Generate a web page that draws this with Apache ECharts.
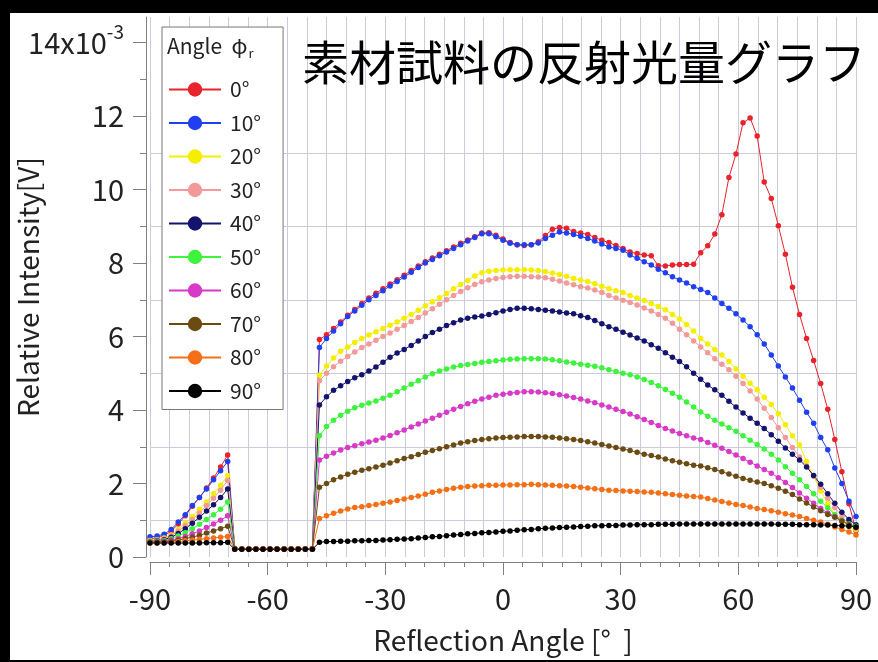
<!DOCTYPE html>
<html>
<head>
<meta charset="utf-8">
<script src="https://cdn.jsdelivr.net/npm/echarts@6/dist/echarts.min.js"></script>
<style>
  html, body { margin: 0; padding: 0; background: #000; }
  #paper { position: absolute; left: 10px; top: 13px; width: 868px; height: 647px; background: #fff; }
  #chart { position: absolute; left: 0; top: 0; width: 878px; height: 662px; }
</style>
</head>
<body>
<div id="paper"></div>
<div id="chart"></div>
<script>
// reflection angle, 1.8 deg step
const angles = [
  -90, -88.2, -86.4, -84.6, -82.8, -81, -79.2, -77.4, -75.6, -73.8, -72, -70.2,
  -68.4, -66.6, -64.8, -63, -61.2, -59.4, -57.6, -55.8, -54, -52.2, -50.4, -48.6,
  -46.8, -45, -43.2, -41.4, -39.6, -37.8, -36, -34.2, -32.4, -30.6,
  -28.8, -27, -25.2, -23.4, -21.6, -19.8, -18, -16.2, -14.4, -12.6,
  -10.8, -9, -7.2, -5.4, -3.6, -1.8, 0, 1.8, 3.6, 5.4,
  7.2, 9, 10.8, 12.6, 14.4, 16.2, 18, 19.8, 21.6, 23.4,
  25.2, 27, 28.8, 30.6, 32.4, 34.2, 36, 37.8, 39.6, 41.4,
  43.2, 45, 46.8, 48.6, 50.4, 52.2, 54, 55.8, 57.6, 59.4,
  61.2, 63, 64.8, 66.6, 68.4, 70.2, 72, 73.8, 75.6, 77.4,
  79.2, 81, 82.8, 84.6, 86.4, 88.2, 90
];

// relative intensity, x10^-3 V
const phi0 = [
  0.50, 0.52, 0.58, 0.70, 0.90, 1.12, 1.38, 1.62, 1.88, 2.15, 2.45, 2.78,
  0.23, 0.22, 0.22, 0.22, 0.22, 0.22, 0.22, 0.22, 0.22, 0.22, 0.22, 0.23,
  5.92, 6.05, 6.22, 6.40, 6.58, 6.74, 6.90, 7.05, 7.18, 7.30,
  7.43, 7.55, 7.67, 7.80, 7.92, 8.04, 8.14, 8.24, 8.34, 8.44,
  8.54, 8.63, 8.72, 8.82, 8.83, 8.76, 8.66, 8.56, 8.50, 8.48,
  8.50, 8.58, 8.75, 8.92, 8.97, 8.95, 8.86, 8.82, 8.78, 8.70,
  8.62, 8.56, 8.48, 8.40, 8.30, 8.26, 8.22, 8.20, 7.93, 7.92,
  7.95, 7.96, 7.96, 7.97, 8.28, 8.47, 8.79, 9.32, 10.33, 10.97,
  11.82, 11.95, 11.46, 10.21, 9.76, 9.02, 8.24, 7.34, 6.60, 5.95,
  5.35, 4.72, 4.02, 3.20, 2.32, 1.45, 0.72
];
const phi10 = [
  0.55, 0.57, 0.62, 0.75, 0.95, 1.15, 1.40, 1.62, 1.85, 2.10, 2.35, 2.60,
  0.23, 0.22, 0.22, 0.21, 0.22, 0.22, 0.22, 0.21, 0.22, 0.22, 0.22, 0.22,
  5.70, 5.95, 6.15, 6.35, 6.55, 6.70, 6.85, 7.00, 7.12, 7.25,
  7.38, 7.50, 7.62, 7.75, 7.88, 8.00, 8.10, 8.20, 8.30, 8.40,
  8.50, 8.60, 8.70, 8.80, 8.80, 8.72, 8.62, 8.54, 8.50, 8.50,
  8.50, 8.55, 8.67, 8.76, 8.85, 8.82, 8.78, 8.73, 8.67, 8.60,
  8.52, 8.44, 8.40, 8.35, 8.22, 8.13, 8.04, 7.95, 7.83, 7.74,
  7.63, 7.54, 7.46, 7.36, 7.28, 7.20, 7.05, 6.90, 6.77, 6.62,
  6.45, 6.27, 6.05, 5.80, 5.50, 5.20, 4.90, 4.60, 4.27, 3.94,
  3.64, 3.25, 2.92, 2.42, 2.00, 1.52, 1.10
];
const phi20 = [
  0.45, 0.47, 0.52, 0.60, 0.75, 0.92, 1.10, 1.30, 1.50, 1.72, 1.95, 2.22,
  0.22, 0.22, 0.22, 0.22, 0.22, 0.22, 0.22, 0.22, 0.22, 0.22, 0.22, 0.22,
  4.95, 5.20, 5.42, 5.60, 5.72, 5.84, 5.95, 6.04, 6.13, 6.22,
  6.31, 6.40, 6.50, 6.60, 6.72, 6.84, 6.95, 7.06, 7.17, 7.30,
  7.42, 7.53, 7.65, 7.74, 7.78, 7.80, 7.81, 7.82, 7.82, 7.82,
  7.81, 7.80, 7.77, 7.73, 7.69, 7.64, 7.58, 7.54, 7.50, 7.44,
  7.37, 7.30, 7.25, 7.20, 7.12, 7.05, 6.98, 6.90, 6.82, 6.73,
  6.60, 6.48, 6.33, 6.15, 5.95, 5.80, 5.65, 5.50, 5.32, 5.12,
  4.92, 4.73, 4.55, 4.35, 4.15, 3.90, 3.60, 3.30, 3.05, 2.60,
  2.20, 1.80, 1.45, 1.15, 0.95, 0.82, 0.75
];
const phi30 = [
  0.45, 0.47, 0.50, 0.58, 0.70, 0.86, 1.02, 1.20, 1.40, 1.60, 1.82, 2.08,
  0.22, 0.22, 0.22, 0.22, 0.22, 0.22, 0.22, 0.22, 0.22, 0.22, 0.22, 0.22,
  4.80, 5.00, 5.18, 5.33, 5.46, 5.58, 5.70, 5.80, 5.90, 6.00,
  6.10, 6.20, 6.30, 6.41, 6.52, 6.64, 6.76, 6.88, 7.00, 7.12,
  7.23, 7.33, 7.42, 7.49, 7.54, 7.58, 7.61, 7.63, 7.64, 7.64,
  7.63, 7.62, 7.60, 7.56, 7.51, 7.46, 7.41, 7.36, 7.32, 7.27,
  7.20, 7.12, 7.05, 6.99, 6.93, 6.86, 6.78, 6.70, 6.60, 6.50,
  6.36, 6.20, 6.05, 5.88, 5.72, 5.56, 5.40, 5.25, 5.10, 4.92,
  4.72, 4.52, 4.30, 4.05, 3.80, 3.52, 3.25, 2.98, 2.72, 2.48,
  2.20, 1.90, 1.60, 1.35, 1.10, 0.90, 0.78
];
const phi40 = [
  0.42, 0.44, 0.47, 0.54, 0.64, 0.77, 0.92, 1.08, 1.25, 1.42, 1.62, 1.85,
  0.22, 0.22, 0.21, 0.22, 0.22, 0.22, 0.22, 0.22, 0.21, 0.22, 0.22, 0.22,
  4.14, 4.36, 4.54, 4.66, 4.78, 4.88, 4.96, 5.06, 5.17, 5.30,
  5.44, 5.55, 5.65, 5.76, 5.88, 6.00, 6.11, 6.20, 6.30, 6.38,
  6.45, 6.50, 6.53, 6.56, 6.60, 6.65, 6.70, 6.74, 6.77, 6.77,
  6.76, 6.74, 6.72, 6.70, 6.67, 6.64, 6.62, 6.57, 6.52, 6.44,
  6.35, 6.27, 6.20, 6.12, 6.04, 5.96, 5.88, 5.78, 5.68, 5.56,
  5.44, 5.32, 5.18, 5.00, 4.84, 4.68, 4.55, 4.40, 4.24, 4.08,
  3.92, 3.78, 3.64, 3.50, 3.33, 3.15, 2.97, 2.80, 2.64, 2.45,
  2.22, 1.98, 1.72, 1.46, 1.22, 1.02, 0.88
];
const phi50 = [
  0.42, 0.43, 0.45, 0.50, 0.57, 0.66, 0.77, 0.89, 1.02, 1.15, 1.30, 1.50,
  0.22, 0.22, 0.22, 0.22, 0.22, 0.22, 0.22, 0.22, 0.22, 0.22, 0.22, 0.22,
  3.30, 3.55, 3.72, 3.86, 3.97, 4.06, 4.13, 4.19, 4.25, 4.32,
  4.40, 4.50, 4.60, 4.70, 4.80, 4.90, 4.99, 5.06, 5.12, 5.17,
  5.21, 5.24, 5.27, 5.30, 5.32, 5.34, 5.36, 5.38, 5.39, 5.40,
  5.40, 5.40, 5.39, 5.37, 5.34, 5.31, 5.28, 5.25, 5.22, 5.19,
  5.15, 5.10, 5.05, 5.00, 4.96, 4.90, 4.83, 4.75, 4.66, 4.56,
  4.46, 4.35, 4.22, 4.08, 3.95, 3.83, 3.72, 3.62, 3.52, 3.42,
  3.30, 3.18, 3.06, 2.94, 2.80, 2.64, 2.46, 2.28, 2.10, 1.92,
  1.72, 1.52, 1.34, 1.16, 1.00, 0.90, 0.84
];
const phi60 = [
  0.40, 0.41, 0.43, 0.46, 0.50, 0.56, 0.63, 0.71, 0.80, 0.90, 1.00, 1.12,
  0.22, 0.22, 0.22, 0.22, 0.22, 0.22, 0.22, 0.22, 0.22, 0.22, 0.22, 0.22,
  2.64, 2.74, 2.83, 2.91, 2.98, 3.03, 3.08, 3.13, 3.18, 3.24,
  3.31, 3.38, 3.46, 3.54, 3.62, 3.70, 3.78, 3.86, 3.94, 4.02,
  4.10, 4.17, 4.24, 4.30, 4.35, 4.40, 4.43, 4.46, 4.48, 4.50,
  4.50, 4.49, 4.47, 4.45, 4.42, 4.38, 4.34, 4.30, 4.25, 4.20,
  4.14, 4.08, 4.02, 3.96, 3.89, 3.82, 3.74, 3.66, 3.58, 3.50,
  3.43, 3.36, 3.30, 3.24, 3.20, 3.12, 3.04, 2.96, 2.87, 2.78,
  2.68, 2.58, 2.48, 2.38, 2.28, 2.16, 2.03, 1.89, 1.74, 1.60,
  1.46, 1.32, 1.20, 1.10, 0.98, 0.88, 0.80
];
const phi70 = [
  0.40, 0.40, 0.41, 0.43, 0.46, 0.50, 0.54, 0.59, 0.65, 0.71, 0.77, 0.84,
  0.22, 0.22, 0.22, 0.22, 0.22, 0.22, 0.22, 0.22, 0.22, 0.22, 0.22, 0.22,
  1.90, 2.00, 2.10, 2.18, 2.25, 2.31, 2.36, 2.40, 2.45, 2.50,
  2.56, 2.62, 2.68, 2.73, 2.79, 2.85, 2.90, 2.95, 3.00, 3.05,
  3.10, 3.14, 3.17, 3.20, 3.22, 3.24, 3.25, 3.26, 3.27, 3.28,
  3.28, 3.28, 3.27, 3.26, 3.24, 3.22, 3.20, 3.17, 3.14, 3.10,
  3.06, 3.02, 2.98, 2.94, 2.90, 2.85, 2.80, 2.76, 2.72, 2.67,
  2.62, 2.58, 2.54, 2.50, 2.48, 2.43, 2.38, 2.32, 2.26, 2.20,
  2.14, 2.09, 2.04, 2.00, 1.94, 1.87, 1.79, 1.70, 1.58, 1.47,
  1.36, 1.26, 1.16, 1.08, 0.98, 0.88, 0.80
];
const phi80 = [
  0.38, 0.38, 0.39, 0.40, 0.42, 0.44, 0.46, 0.48, 0.50, 0.52, 0.54, 0.56,
  0.21, 0.22, 0.22, 0.22, 0.22, 0.22, 0.22, 0.22, 0.22, 0.22, 0.22, 0.21,
  1.05, 1.12, 1.19, 1.25, 1.31, 1.35, 1.37, 1.40, 1.43, 1.46,
  1.50, 1.54, 1.58, 1.62, 1.66, 1.71, 1.76, 1.80, 1.84, 1.87,
  1.90, 1.92, 1.93, 1.94, 1.95, 1.95, 1.96, 1.96, 1.97, 1.97,
  1.98, 1.97, 1.96, 1.95, 1.94, 1.93, 1.92, 1.90, 1.88, 1.86,
  1.84, 1.82, 1.81, 1.80, 1.79, 1.78, 1.77, 1.76, 1.74, 1.72,
  1.70, 1.68, 1.66, 1.65, 1.63, 1.59, 1.55, 1.51, 1.47, 1.43,
  1.40, 1.36, 1.32, 1.29, 1.26, 1.22, 1.18, 1.14, 1.10, 1.05,
  1.00, 0.95, 0.89, 0.82, 0.75, 0.68, 0.60
];
const phi90 = [
  0.38, 0.38, 0.38, 0.38, 0.38, 0.38, 0.38, 0.38, 0.39, 0.39, 0.39, 0.40,
  0.21, 0.21, 0.21, 0.21, 0.21, 0.21, 0.21, 0.21, 0.21, 0.21, 0.21, 0.21,
  0.40, 0.42, 0.42, 0.43, 0.43, 0.44, 0.44, 0.45, 0.45, 0.46,
  0.47, 0.48, 0.49, 0.50, 0.52, 0.53, 0.55, 0.56, 0.58, 0.60,
  0.61, 0.63, 0.64, 0.66, 0.67, 0.68, 0.70, 0.71, 0.73, 0.74,
  0.75, 0.77, 0.78, 0.79, 0.80, 0.81, 0.82, 0.83, 0.84, 0.85,
  0.85, 0.86, 0.86, 0.87, 0.87, 0.88, 0.88, 0.88, 0.89, 0.89,
  0.89, 0.90, 0.90, 0.90, 0.90, 0.90, 0.90, 0.90, 0.90, 0.90,
  0.90, 0.90, 0.90, 0.90, 0.90, 0.89, 0.89, 0.89, 0.88, 0.88,
  0.88, 0.87, 0.87, 0.86, 0.85, 0.84, 0.82
];

const seriesNames = ['0°', '10°', '20°', '30°', '40°', '50°', '60°', '70°', '80°', '90°'];
const seriesValues = [phi0, phi10, phi20, phi30, phi40, phi50, phi60, phi70, phi80, phi90];
const colors = ['#e8232b', '#1f3ff0', '#f5ee00', '#f29a9a', '#14146e',
                '#3ef23e', '#d63ac6', '#6b4b12', '#f56f16', '#000000'];

const xTicks = [-90, -60, -30, 0, 30, 60, 90];
const yTicks = [0, 2, 4, 6, 8, 10, 12, 14];
const yMinorTicks = [1, 3, 5, 7, 9, 11, 13];

const font = 'Noto Sans CJK JP';
const gridColor = '#cbcbdd';
const axisColor = '#808080';

const chart = echarts.init(document.getElementById('chart'));

chart.setOption({
  animation: false,
  backgroundColor: 'transparent',
  textStyle: { fontFamily: font },
  title: {
    text: '素材試料の反射光量グラフ',
    left: 297,
    top: 34,
    textStyle: { fontSize: 47, fontWeight: 'normal', color: '#000', fontFamily: font },
  },
  legend: {
    orient: 'vertical',
    left: 162,
    top: 27,
    padding: [52, 22, 8, 6],
    itemWidth: 52,
    itemHeight: 18,
    itemGap: 12.5,
    backgroundColor: '#fff',
    borderColor: '#777',
    borderWidth: 1,
    borderRadius: 0,
    textStyle: { fontSize: 21, color: '#222', fontFamily: font, padding: [0, 0, 0, 4] },
    data: seriesNames,
  },
  graphic: [
    {
      type: 'text',
      left: 167,
      top: 33,
      z: 100,
      style: {
        text: '{a|Angle  φ}{s|r}',
        rich: {
          a: { fontSize: 21, fontFamily: font, fill: '#222', lineHeight: 30 },
          s: { fontSize: 13, fontFamily: font, fill: '#222', lineHeight: 30, padding: [14, 0, 0, 1] },
        },
      },
    },
  ],
  grid: { left: 150, right: 22, top: 17, bottom: 105 },
  xAxis: {
    type: 'value',
    min: -90,
    max: 90,
    interval: 30,
    offset: 5,
    name: 'Reflection Angle [°  ]',
    nameLocation: 'middle',
    nameGap: 64,
    nameTextStyle: { fontSize: 28, color: '#222', fontFamily: font },
    axisLine: { show: true, onZero: false, lineStyle: { color: axisColor, width: 1 } },
    axisTick: { show: true, length: 13, lineStyle: { color: axisColor } },
    minorTick: { show: true, splitNumber: 6, length: 5, lineStyle: { color: axisColor } },
    axisLabel: {
      fontSize: 29,
      color: '#222',
      margin: 22,
      formatter: (v) => (xTicks.includes(v) ? String(v) : ''),
    },
    splitLine: { show: true, lineStyle: { color: gridColor, width: 1 } },
    minorSplitLine: { show: true, lineStyle: { color: gridColor, width: 1 } },
  },
  yAxis: [
    {
      type: 'value',
      min: 0,
      max: 14.7,
      interval: 1,
      offset: 4,
      position: 'left',
      name: 'Relative Intensity[V]',
      nameLocation: 'middle',
      nameGap: 104,
      nameTextStyle: { fontSize: 28, color: '#222', fontFamily: font },
      axisLine: { show: true, onZero: false, lineStyle: { color: axisColor, width: 1 } },
      axisTick: { show: true, length: 6, customValues: yMinorTicks, lineStyle: { color: axisColor } },
      axisLabel: { show: false },
      splitLine: { show: true, showMaxLine: false, lineStyle: { color: gridColor, width: 1 } },
    },
    {
      type: 'value',
      min: 0,
      max: 14.7,
      interval: 2,
      offset: 4,
      position: 'left',
      axisLine: { show: false, onZero: false },
      axisTick: { show: true, length: 13, customValues: yTicks, lineStyle: { color: axisColor } },
      axisLabel: {
        fontSize: 29,
        color: '#222',
        margin: 22,
        customValues: yTicks,
        formatter: (v) => (v === 14 ? '{m|14x10}{e|-3}' : String(v)),
        rich: {
          m: { fontSize: 29, color: '#222', fontFamily: font },
          e: { fontSize: 19, color: '#222', fontFamily: font, padding: [0, 0, 22, 0] },
        },
      },
      splitLine: { show: false },
    },
  ],
  series: seriesNames.map((name, k) => ({
    name: name,
    type: 'line',
    yAxisIndex: 0,
    symbol: 'circle',
    symbolSize: 5.5,
    showSymbol: true,
    color: colors[k],
    lineStyle: { width: 1, color: colors[k] },
    itemStyle: { color: colors[k] },
    data: angles.map((a, i) => [a, seriesValues[k][i]]),
  })),
});
</script>
</body>
</html>
